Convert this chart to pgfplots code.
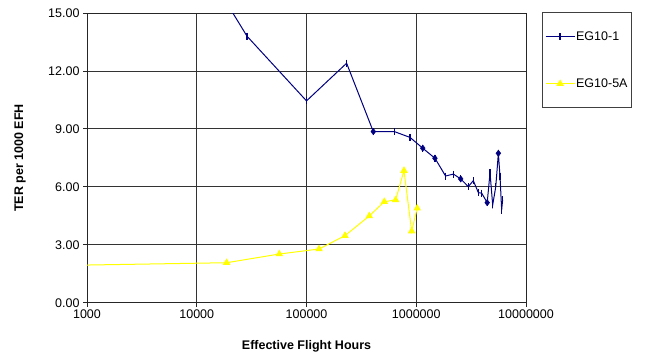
\documentclass[border=0pt]{standalone}
\usepackage{fontspec}
\setmainfont{Liberation Sans}
\usepackage{pgfplots}
\pgfplotsset{compat=1.18}
\definecolor{navyb}{HTML}{000080}
\definecolor{yel}{HTML}{FFFF00}
\newcommand{\fs}{\fontsize{12.5}{15}\selectfont}
\begin{document}
\begin{tikzpicture}
\useasboundingbox (-87pt,-51.3pt) rectangle (565pt,302.7pt);
\begin{axis}[
  at={(0pt,0pt)}, anchor=south west,
  scale only axis, width=439pt, height=289.7pt,
  xmode=log, xmin=1000, xmax=10000000,
  ymin=0, ymax=15,
  xtick={1000,10000,100000,1000000,10000000},
  xticklabels={1000,10000,100000,1000000,10000000},
  xminorticks=false,
  ytick={0,3,6,9,12,15},
  yticklabel={\pgfmathprintnumber[fixed,fixed zerofill,precision=2]{\tick}},
  /pgf/number format/assume math mode=true,
  tick label style={font=\fs},
  grid=major,
  major grid style={black!80, line width=0.8pt},
  axis line style={black!85, line width=1pt},
  tick align=outside, major tick length=4pt,
  tick style={black!85, line width=0.8pt},
  xtick pos=bottom, ytick pos=left,
  xlabel={\bfseries Effective Flight Hours},
  ylabel={\bfseries TER per 1000 EFH},
  label style={font=\fs},
  xlabel style={at={(axis description cs:0.5,0)}, anchor=center, yshift=-44pt},
  ylabel style={at={(axis description cs:0,0.5)}, anchor=center, yshift=67pt},
  clip=true,
  legend style={at={(1.0358,1.0035)}, anchor=north west, draw=black!75, line width=0.8pt,
    font=\fs, inner xsep=3pt, inner ysep=18pt, row sep=35pt,
    nodes={inner sep=1pt}},
  legend cell align=left,
  legend image code/.code={\draw[mark repeat=2,mark phase=2,#1] plot coordinates {(0pt,0pt) (14.5pt,0pt) (29pt,0pt)};},
]
\addplot[navyb, line width=1pt, mark=|, mark size=3.5pt, mark options={line width=1.3pt}] coordinates {
(14700,16.5)
(28700,13.8)
(100000,10.45)
(232000,12.4)
(406000,8.86)
(631000,8.86)
(877000,8.56)
(1146000,8.0)
(1480000,7.48)
(1850000,6.56)
(2180000,6.66)
(2540000,6.41)
(2980000,6.01)
(3310000,6.32)
(3680000,5.70)
(3950000,5.67)
(4430000,5.18)
(4700000,6.73)
(4970000,5.06)
(5300000,6.0)
(5600000,7.74)
(5800000,6.52)
(6000000,4.80)
(6120000,5.32)
};
\addlegendentry{EG10-1}
\addplot[yel, line width=1pt, mark=triangle*, mark size=3.4pt, mark options={solid}] coordinates {
(18700,2.07)
(56500,2.52)
(130000,2.78)
(224000,3.47)
(373000,4.49)
(511000,5.23)
(649000,5.32)
(773000,6.84)
(908000,3.71)
(1020000,4.89)
};
\addlegendentry{EG10-5A}
\addplot[yel, line width=1pt, forget plot] coordinates {(1000,1.95) (18700,2.07)};
\addplot[navyb, only marks, mark=diamond*, mark size=3.2pt, forget plot] coordinates {
(406000,8.86)
(1146000,8.0)
(1480000,7.48)
(2540000,6.41)
(4430000,5.18)
(5600000,7.74)
};
\end{axis}
\end{tikzpicture}
\end{document}
